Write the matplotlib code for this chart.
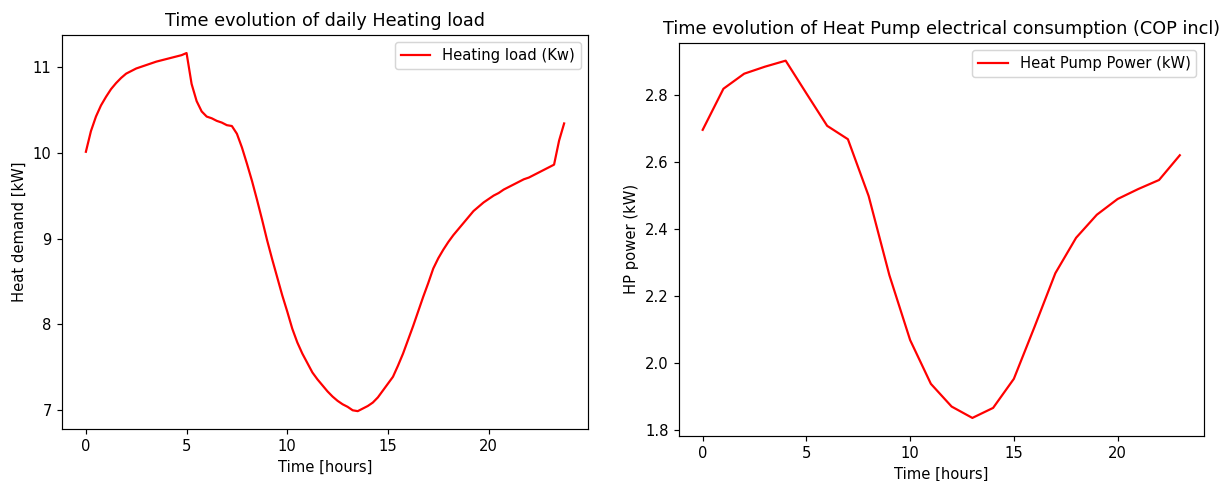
import numpy as np
import matplotlib
matplotlib.use('Agg')
import matplotlib.pyplot as plt

# heating load, 15 min steps
t_load = np.arange(0, 24, 0.25)
heat_load = [10.01, 10.25, 10.42, 10.55, 10.65, 10.74, 10.81, 10.87,
             10.92, 10.95, 10.98, 11.00, 11.02, 11.04, 11.06, 11.075,
             11.09, 11.105, 11.12, 11.135, 11.16, 10.80, 10.60, 10.48,
             10.42, 10.40, 10.37, 10.35, 10.32, 10.31, 10.22, 10.06,
             9.87, 9.67, 9.45, 9.22, 8.98, 8.76, 8.55, 8.34,
             8.15, 7.95, 7.79, 7.66, 7.55, 7.44, 7.36, 7.29,
             7.22, 7.16, 7.11, 7.07, 7.04, 7.00, 6.99, 7.02,
             7.05, 7.09, 7.15, 7.23, 7.31, 7.39, 7.52, 7.66,
             7.82, 7.98, 8.15, 8.32, 8.48, 8.65, 8.77, 8.87,
             8.96, 9.04, 9.11, 9.18, 9.25, 9.32, 9.37, 9.42,
             9.46, 9.50, 9.53, 9.57, 9.60, 9.63, 9.66, 9.69,
             9.71, 9.74, 9.77, 9.80, 9.83, 9.86, 10.14, 10.34]

# heat pump power, hourly
t_hp = np.arange(0, 24)
hp_power = [2.697, 2.820, 2.865, 2.886, 2.904, 2.806, 2.709, 2.669,
            2.499, 2.262, 2.068, 1.937, 1.869, 1.835, 1.865, 1.952,
            2.108, 2.268, 2.374, 2.443, 2.490, 2.520, 2.547, 2.621]

dpi = 106
fig = plt.figure(figsize=(1232 / dpi, 481 / dpi), dpi=dpi)
ax1 = fig.add_axes([0.0503, 0.108, 0.427, 0.819])
ax2 = fig.add_axes([0.551, 0.094, 0.426, 0.817])

ax1.plot(t_load, heat_load, color='red', label='Heating load (Kw)')
ax1.set_title('Time evolution of daily Heating load', fontsize=12)
ax1.set_xlabel('Time [hours]')
ax1.set_ylabel('Heat demand [kW]')
ax1.legend(loc='upper right')

ax2.plot(t_hp, hp_power, color='red', label='Heat Pump Power (kW)')
ax2.set_title('Time evolution of Heat Pump electrical consumption (COP incl)', fontsize=12)
ax2.set_xlabel('Time [hours]')
ax2.set_ylabel('HP power (kW)')
ax2.legend(loc='upper right')

fig.savefig('out.png', dpi=dpi)
